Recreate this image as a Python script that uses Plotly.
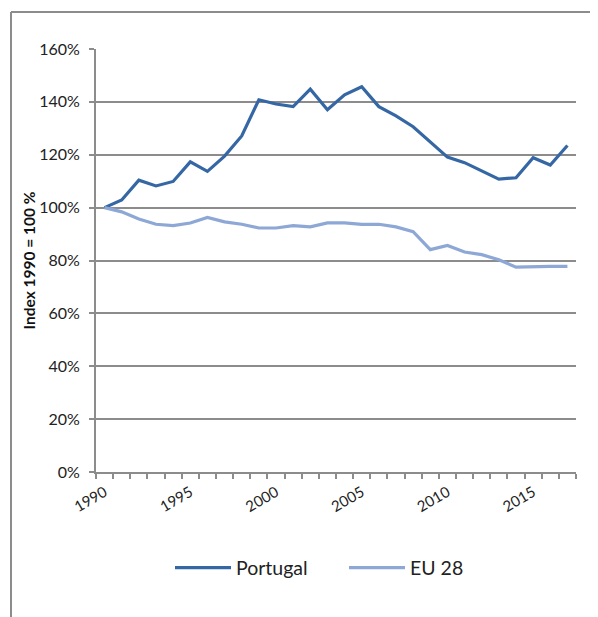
import plotly.graph_objects as go

years = list(range(1990, 2018))
portugal = [100.0, 102.9, 110.4, 108.2, 109.9, 117.3, 113.7, 119.5, 127.1, 140.8,
            139.2, 138.2, 144.8, 137.0, 142.7, 145.7, 138.2, 134.7, 130.6, 124.8,
            119.1, 117.0, 113.9, 110.8, 111.3, 118.9, 116.1, 123.5]
eu28 = [100.0, 98.4, 95.7, 93.7, 93.2, 94.2, 96.3, 94.6, 93.7, 92.3,
        92.3, 93.2, 92.7, 94.2, 94.2, 93.7, 93.7, 92.7, 90.9, 84.1,
        85.7, 83.2, 82.2, 80.3, 77.5, 77.8, 77.8, 77.8]
ytick_vals = [0, 20, 40, 60, 80, 100, 120, 140, 160]
ytick_text = [f"{v}%" for v in ytick_vals]
xcats = [str(y) for y in years]
xtick_text = [str(y) if y % 5 == 0 else "" for y in years]

FONT = "Lato"
OFF = 8  # page body margin
W, H = 598 - OFF, 617 - OFF
L, R, T, B = 96 - OFF, 22, 49 - OFF, 145
pw, ph = W - L - R, H - T - B

def px2paper_x(px):
    return (px - OFF - L) / pw

def px2paper_y(py):
    return (H - B - (py - OFF)) / ph

fig = go.Figure()
fig.add_trace(go.Scatter(x=xcats, y=portugal, mode="lines", name="Portugal",
                         line=dict(color="#3567A5", width=3.2)))
fig.add_trace(go.Scatter(x=xcats, y=eu28, mode="lines", name="EU 28",
                         line=dict(color="#8EA8D6", width=3.2)))

fig.update_layout(
    width=W, height=H,
    margin=dict(l=L, r=R, t=T, b=B, pad=0, autoexpand=False),
    paper_bgcolor="white", plot_bgcolor="white",
    font=dict(family=FONT, color="#222222", size=14),
    showlegend=True,
    legend=dict(orientation="h", x=px2paper_x(170), xanchor="left", y=px2paper_y(568), yanchor="middle",
                font=dict(size=19.5, family=FONT, color="#222222"),
                itemwidth=56, entrywidth=103, entrywidthmode="pixels",
                traceorder="normal", bgcolor="rgba(0,0,0,0)"),
    xaxis=dict(type="category", tickmode="array", tickvals=xcats, ticktext=xtick_text,
               tickangle=-30, tickson="boundaries", ticks="outside", ticklen=5, tickwidth=2,
               tickcolor="#8C8C8C", showline=True, linecolor="#8C8C8C", linewidth=2,
               showgrid=False, zeroline=False, range=[-0.5, 27.5], ticklabelstandoff=4,
               tickfont=dict(size=15, family=FONT, color="#222222")),
    yaxis=dict(range=[0, 160], tickmode="array", tickvals=ytick_vals, ticktext=ytick_text,
               ticks="outside", ticklen=5, tickwidth=2, tickcolor="#8C8C8C",
               showline=True, linecolor="#8C8C8C", linewidth=2, ticklabelstandoff=6,
               showgrid=True, gridcolor="#8C8C8C", gridwidth=2, zeroline=False,
               tickfont=dict(size=16, family=FONT, color="#222222")),
    annotations=[dict(text="<b>Index 1990 = 100 %</b>", textangle=-90,
                      xref="paper", yref="paper", x=px2paper_x(28), y=0.5,
                      xanchor="center", yanchor="middle", showarrow=False,
                      font=dict(size=15.5, family=FONT, color="#111111"))],
    shapes=[
        dict(type="line", xref="paper", yref="paper",
             x0=px2paper_x(11), x1=px2paper_x(610), y0=px2paper_y(12), y1=px2paper_y(12),
             line=dict(color="#8C8C8C", width=2)),
        dict(type="line", xref="paper", yref="paper",
             x0=px2paper_x(11), x1=px2paper_x(11), y0=px2paper_y(12), y1=px2paper_y(630),
             line=dict(color="#8C8C8C", width=2)),
    ],
)

fig.write_html("out.html")
